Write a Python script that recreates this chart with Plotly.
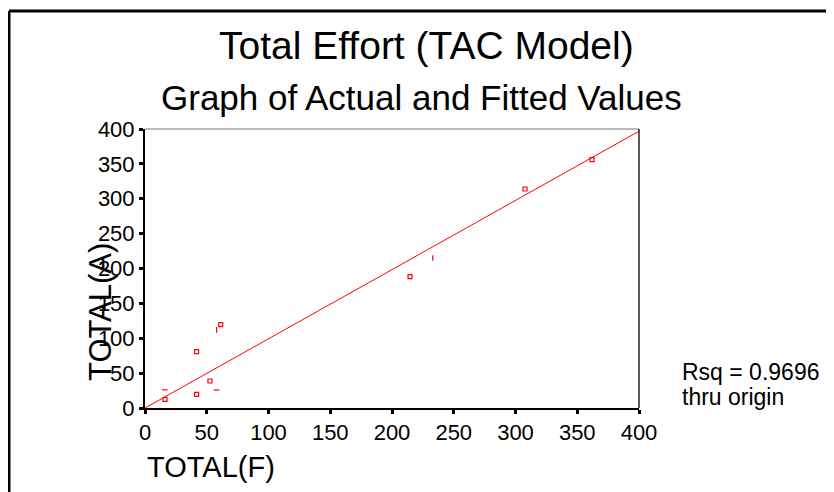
import plotly.graph_objects as go

# Data
sq_x = [16.2, 41.8, 41.8, 52.6, 61.3, 214.6, 307.7, 362.0]
sq_y = [12.5, 80.7, 19.6, 38.7, 119.5, 188.3, 314.0, 356.0]
dash_x = [16.0, 58.0]
dash_y = [26.0, 25.8]
tick_x = [58.0, 233.0]
tick_y = [112.0, 215.0]
fit_slope = 0.992
fit_x = [0, 400]
fit_y = [fit_slope * v for v in fit_x]
x_ticks = [0, 50, 100, 150, 200, 250, 300, 350, 400]
y_ticks = [0, 50, 100, 150, 200, 250, 300, 350, 400]

OFF = 8  # page body margin
W, H = 834 - OFF, 492 - OFF
L, R, T, B = 145, 639, 129, 408  # screen pixels
pw, ph = R - L, B - T


def px(x):
    return (x - L) / pw


def py(y):
    return (B - y) / ph


FONT = "Liberation Sans, Arial, sans-serif"
RED = "#ff0000"

fig = go.Figure()
fig.add_trace(go.Scatter(x=fit_x, y=fit_y, mode="lines",
                         line=dict(color=RED, width=1), hoverinfo="skip"))
fig.add_trace(go.Scatter(x=sq_x, y=sq_y, mode="markers",
                         marker=dict(symbol="square-open", size=4, color=RED,
                                     line=dict(color=RED, width=1.2))))
fig.add_trace(go.Scatter(x=dash_x, y=dash_y, mode="markers",
                         marker=dict(symbol="line-ew-open", size=4, color=RED,
                                     line=dict(color=RED, width=1.2))))
fig.add_trace(go.Scatter(x=tick_x, y=tick_y, mode="markers",
                         marker=dict(symbol="line-ns-open", size=4, color=RED,
                                     line=dict(color=RED, width=1.2))))

axis_common = dict(showgrid=False, zeroline=False, showline=True,
                   linecolor="black", linewidth=2, ticks="outside",
                   ticklen=4, tickwidth=3, tickcolor="black",
                   tickfont=dict(family=FONT, size=22, color="black"))

fig.update_xaxes(range=[0, 400], tickvals=x_ticks, ticktext=[str(v) for v in x_ticks],
                 **axis_common)
fig.update_yaxes(range=[0, 400], tickvals=y_ticks, ticktext=[str(v) for v in y_ticks],
                 ticklabelstandoff=0, **axis_common)

shapes = [
    dict(type="line", xref="paper", yref="paper", x0=0, x1=1, y0=1, y1=1,
         line=dict(color="#777777", width=1)),
    dict(type="line", xref="paper", yref="paper", x0=1, x1=1, y0=0, y1=1,
         line=dict(color="#222222", width=1.5)),
    dict(type="line", xref="paper", yref="paper", x0=px(9), x1=px(840), y0=py(11), y1=py(11),
         line=dict(color="black", width=3)),
    dict(type="line", xref="paper", yref="paper", x0=px(9), x1=px(9), y0=py(11), y1=py(500),
         line=dict(color="black", width=3)),
]


def ann(text, x, y, size, xanchor="center", angle=0):
    return dict(text=text, x=px(x), y=py(y), xref="paper", yref="paper",
                showarrow=False, xanchor=xanchor, yanchor="middle", textangle=angle,
                font=dict(family=FONT, size=size, color="black"))


annotations = [
    ann("Total Effort (TAC Model)", 426, 45, 39),
    ann("Graph of Actual and Fitted Values", 421, 97, 35),
    ann("TOTAL(F)", 145, 467, 29, xanchor="left"),
    ann("TOTAL(A)", 100, 312, 31, angle=-90),
    ann("Rsq = 0.9696", 680, 372, 23, xanchor="left"),
    ann("thru origin", 680, 397, 23, xanchor="left"),
]

fig.update_layout(width=W, height=H, autosize=False,
                  margin=dict(l=L - OFF, r=W - (R - OFF), t=T - OFF, b=H - (B - OFF), pad=0),
                  paper_bgcolor="white", plot_bgcolor="white",
                  showlegend=False, shapes=shapes, annotations=annotations)

fig.write_html("out.html")
